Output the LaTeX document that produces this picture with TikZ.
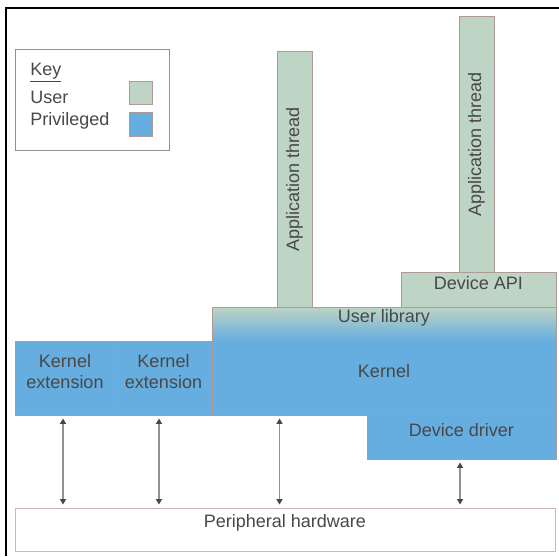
\documentclass[tikz,border=0pt]{standalone}
\usepackage{fontspec}
\setmainfont{Liberation Sans}
\usetikzlibrary{fit,arrows.meta}
\definecolor{usergreen}{RGB}{190,212,196}
\definecolor{privblue}{RGB}{102,173,224}
\definecolor{boxedge}{RGB}{178,154,148}
\definecolor{labelgray}{RGB}{72,72,72}
\definecolor{linkgray}{RGB}{150,144,144}

\begin{document}
\begin{tikzpicture}[x=0.75pt,y=0.75pt,yscale=-1,xscale=1,
  font=\fontsize{13.5}{16}\selectfont, text=labelgray,
  blk/.style={draw=boxedge, line width=0.75pt, inner sep=0pt, align=center},
  userblk/.style={blk, fill=usergreen},
  privblk/.style={blk, fill=privblue},
  tip/.style={Triangle[length=4pt,width=4.5pt,color=labelgray]},
  link/.style={draw=linkgray, line width=0.9pt, {Triangle[length=4pt,width=4.5pt,color=labelgray]}-{Triangle[length=4pt,width=4.5pt,color=labelgray]}, shorten >=2.25pt, shorten <=2.25pt}]
\useasboundingbox (0,0) rectangle (559,556);

%Frame lines
\draw [line width=1.5pt] (6,556) -- (6,8) -- (559,8) ;

%Key
\node (key) [blk, draw=linkgray, fit={(15,50) (169,150)}] {};
\node (keytitle) [anchor=west, inner sep=0pt] at (30,73) {\underline{Key}};
\node (keyuser) [anchor=west, inner sep=0pt] at (30,97) {User};
\node (keypriv) [anchor=west, inner sep=0pt] at (30,121) {Privileged};
\node (swuser) [userblk, fit={(129,82) (152,105)}] {};
\node (swpriv) [privblk, fit={(129,113) (152,136)}] {};

%Application threads
\node (app1) [userblk, fit={(277,52) (312,307)}] {};
\node [rotate=90] at (app1) {Application thread};
\node (app2) [userblk, fit={(459,17) (494,272)}] {};
\node [rotate=90] at (app2) {Application thread};

%Device API
\node (devapi) [userblk, fit={(401,272) (556,307)}] {Device API};

%User library
\node (userlib) [blk, top color=usergreen, bottom color=privblue, fit={(212,307) (556,341)}] {User library};

%Kernel and extensions
\node (kext1) [privblk, fit={(15,341) (115,415)}] {Kernel\\extension};
\node (kext2) [privblk, fit={(115,341) (212,415)}] {Kernel\\extension};
\node (kernel) [privblk, fit={(212,341) (556,415)}] {Kernel};

%Device driver
\node (driver) [privblk, fit={(367,415) (556,459)}] {Device driver};

%Peripheral hardware
\node (periph) [blk, draw=boxedge!70, fill=white, fit={(15,508) (555,551)}] {Peripheral hardware};

%Links to hardware
\draw [link] ([xshift=-1.5pt]kext1.south) -- ([xshift=-1.5pt]kext1.south |- periph.north) ;
\draw [link] ([xshift=-3.4pt]kext2.south) -- ([xshift=-3.4pt]kext2.south |- periph.north) ;
\draw [link] ([xshift=51pt]kernel.south west) -- ([xshift=51pt]kernel.south west |- periph.north) ;
\draw [link] ([xshift=-1.1pt]driver.south) -- ([xshift=-1.1pt]driver.south |- periph.north) ;
\end{tikzpicture}
\end{document}
